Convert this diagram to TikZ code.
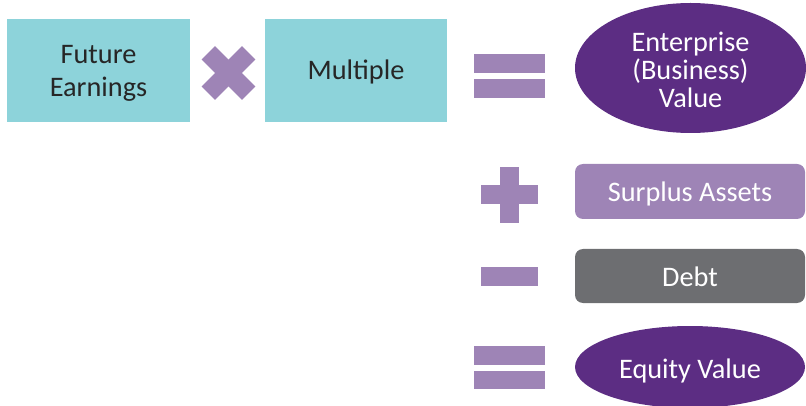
\documentclass[tikz,border=0pt]{standalone}
\usepackage{fontspec}
\setmainfont{Carlito}
\usetikzlibrary{shapes.geometric}
\definecolor{tealbox}{HTML}{8DD3DA}
\definecolor{lilac}{HTML}{9E84B6}
\definecolor{plum}{HTML}{5C2D83}
\definecolor{slate}{HTML}{6D6E71}
\definecolor{ink}{HTML}{262626}
\tikzset{
  % captions sit with their (last) baseline exactly on the node position
  caption/.style={font=\fontsize{28.3}{31}\selectfont, align=center,
    inner sep=0pt, text height=0pt, text depth=0pt},
  factor/.style={rectangle, fill=tealbox, inner sep=0pt,
    minimum width=183pt, minimum height=103pt},
  result/.style={ellipse, fill=plum, inner sep=0pt},
  item/.style={rectangle, rounded corners=8pt, inner sep=0pt,
    minimum width=230pt, minimum height=55pt},
  opfill/.style={fill=lilac, draw=none}
}
\begin{document}
\begin{tikzpicture}[x=1pt, y=-1pt]
  \useasboundingbox (0,0) rectangle (806,406);

  % top row: earnings times multiple equals enterprise value
  \node[factor] (fe) at (98.5,70.5) {};
  \node[caption, text=ink] (fe-text) at ([yshift=-26.2pt]fe.center) {Future\\[2.5pt]Earnings};

  \node[factor, minimum width=182pt] (mult) at (356,70.5) {};
  \node[caption, text=ink] (mult-text) at ([yshift=-9.5pt]mult.center) {Multiple};

  \node[result, minimum width=231pt, minimum height=130pt] (ev) at (690.5,68) {};
  \node[caption, text=white] (ev-text) at ([yshift=-39.7pt]ev.center)
    {Enterprise\\[-2.7pt](Business)\\[-2.7pt]Value};

  % right column
  \node[item, fill=lilac] (sa) at (690,191.5) {};
  \node[caption, text=white] (sa-text) at ([yshift=-10.2pt]sa.center) {Surplus Assets};

  \node[item, fill=slate, minimum height=54pt] (debt) at (690,276) {};
  \node[caption, text=white] (debt-text) at ([yshift=-10.7pt]debt.center) {Debt};

  \node[result, minimum width=230pt, minimum height=82pt] (eqv) at (690,367) {};
  \node[caption, text=white] (eqv-text) at ([yshift=-11.3pt]eqv.center) {Equity Value};

  % operator signs
  \coordinate (times) at (228.5,73);
  \begin{scope}[shift={(times)}, rotate=45]
    \fill[opfill] (-28.5,-9.5) rectangle (28.5,9.5);
    \fill[opfill] (-9.5,-28.5) rectangle (9.5,28.5);
  \end{scope}

  \coordinate (plus) at (509.5,195);
  \begin{scope}[shift={(plus)}]
    \fill[opfill] (-28.5,-9.5) rectangle (28.5,9.5);
    \fill[opfill] (-9.5,-28) rectangle (9.5,28);
  \end{scope}

  \coordinate (minus) at (509.5,276.5);
  \fill[opfill] ([shift={(-28.5,-9.5)}]minus) rectangle ([shift={(28.5,9.5)}]minus);

  \coordinate (eqtop) at (509.5,76);
  \fill[opfill] ([shift={(-35.5,-22)}]eqtop) rectangle ([shift={(35.5,-3)}]eqtop);
  \fill[opfill] ([shift={(-35.5,3)}]eqtop) rectangle ([shift={(35.5,22)}]eqtop);

  \coordinate (eqbot) at (509.5,367.5);
  \fill[opfill] ([shift={(-35.5,-21.5)}]eqbot) rectangle ([shift={(35.5,-3)}]eqbot);
  \fill[opfill] ([shift={(-35.5,3.5)}]eqbot) rectangle ([shift={(35.5,21.5)}]eqbot);
\end{tikzpicture}
\end{document}
